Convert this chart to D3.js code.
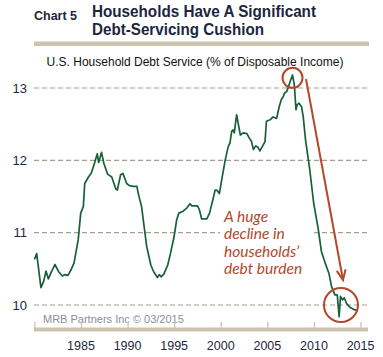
<!DOCTYPE html>
<html><head><meta charset="utf-8">
<script src="https://cdn.jsdelivr.net/npm/d3@7"></script>
<style>body{margin:0;background:#fff}svg{display:block}</style>
</head><body>
<script>
const years = [1980.0,1980.25,1980.7,1981.0,1981.25,1981.5,1981.8,1982.2,1982.6,1983.0,1983.3,1983.6,1983.9,1984.25,1984.7,1984.97,1985.25,1985.4,1985.8,1986.1,1986.4,1986.75,1986.9,1987.2,1987.45,1987.85,1988.3,1988.75,1988.9,1989.25,1989.5,1989.9,1990.2,1990.6,1991.0,1991.15,1991.5,1991.87,1992.05,1992.5,1992.8,1993.2,1993.4,1993.6,1993.9,1994.3,1994.6,1994.98,1995.27,1995.5,1996.0,1996.35,1996.7,1996.9,1997.5,1997.7,1997.95,1998.5,1998.8,1999.4,1999.56,1999.85,2000.1,2000.47,2000.8,2000.99,2001.17,2001.3,2001.45,2001.7,2001.9,2002.1,2002.4,2002.8,2003.05,2003.3,2003.5,2003.75,2004.0,2004.2,2004.5,2004.75,2004.9,2005.3,2005.6,2005.99,2006.27,2006.5,2006.7,2006.85,2007.07,2007.25,2007.5,2007.7,2007.9,2008.07,2008.2,2008.4,2008.67,2008.85,2009.1,2009.35,2009.55,2009.97,2010.45,2010.8,2011.15,2011.6,2011.9,2012.25,2012.5,2012.7,2012.85,2013.07,2013.25,2013.5,2013.85,2014.25,2014.7];
const debtService = [10.63,10.71,10.24,10.33,10.47,10.36,10.45,10.56,10.46,10.40,10.42,10.41,10.48,10.58,10.90,11.27,11.36,11.68,11.77,11.82,11.94,12.09,11.97,12.11,11.96,11.81,11.77,11.60,11.59,11.80,11.82,11.68,11.65,11.64,11.64,11.54,11.36,10.99,10.81,10.55,10.46,10.38,10.42,10.39,10.43,10.55,10.71,10.94,11.18,11.27,11.30,11.34,11.40,11.37,11.37,11.32,11.19,11.19,11.27,11.59,11.59,11.54,11.73,12.00,12.19,12.24,12.40,12.42,12.38,12.63,12.49,12.35,12.38,12.37,12.31,12.26,12.15,12.20,12.18,12.13,12.20,12.26,12.54,12.56,12.60,12.58,12.74,12.84,12.88,12.93,12.95,13.01,13.11,13.18,13.04,12.70,12.77,12.79,12.74,12.60,12.28,12.05,11.87,11.41,11.06,10.74,10.60,10.44,10.25,10.14,10.14,9.84,10.12,10.07,10.10,10.02,9.97,9.94,9.92];
const yTicks = [10, 11, 12, 13];
const xTicks = [1980, 1985, 1990, 1995, 2000, 2005, 2010, 2015];
const xTickLabels = ["", "1985", "1990", "1995", "2000", "2005", "2010", "2015"];
const titleLines = ["Households Have A Significant", "Debt-Servicing Cushion"];
const chartLabel = "Chart 5";
const subtitle = "U.S. Household Debt Service (% of Disposable Income)";
const annotationLines = ["A huge", "decline in", "households\u2019", "debt burden"];
const source = "MRB Partners Inc \u00a9 03/2015";
const peakPoint = [2007.7, 13.14];
const troughPoint = [2012.9, 10.0];

const W = 383, H = 357;
const navy = "#1d2640", rust = "#b5472b", tan = "#cbc3ae", grid = "#a39d8a", green = "#17603a";
const svg = d3.select("body").append("svg").attr("width", W).attr("height", H);

const x = d3.scaleLinear().domain([1980, 2015.8]).range([34.4, 368]);
const y = d3.scaleLinear().domain([10, 13]).range([305, 88]);

// Title
const tf = "Liberation Sans, Arial, sans-serif";
svg.append("text").attr("x", 34).attr("y", 20).attr("fill", navy)
  .attr("font-family", tf).attr("font-weight", 700).attr("font-size", 12.5)
  .attr("textLength", 43).attr("lengthAdjust", "spacingAndGlyphs").text(chartLabel);
svg.append("text").attr("x", 92).attr("y", 16.5).attr("fill", navy)
  .attr("font-family", tf).attr("font-weight", 700).attr("font-size", 16)
  .attr("textLength", 224).attr("lengthAdjust", "spacingAndGlyphs").text(titleLines[0]);
svg.append("text").attr("x", 92).attr("y", 35).attr("fill", navy)
  .attr("font-family", tf).attr("font-weight", 700).attr("font-size", 16)
  .attr("textLength", 172).attr("lengthAdjust", "spacingAndGlyphs").text(titleLines[1]);
svg.append("rect").attr("x", 34).attr("y", 41.5).attr("width", 335).attr("height", 4.5).attr("fill", tan);

svg.append("text").attr("x", 195).attr("y", 66).attr("text-anchor", "middle")
  .attr("font-family", "Liberation Sans, Arial, sans-serif").attr("font-size", 12).attr("fill", "#111")
  .text(subtitle);

// Gridlines
svg.append("g").selectAll("line").data(yTicks).join("line")
  .attr("x1", 34).attr("x2", 368).attr("y1", d => y(d)).attr("y2", d => y(d))
  .attr("stroke", grid).attr("stroke-width", 1.1).attr("stroke-dasharray", "5,3");
svg.append("g").selectAll("text").data(yTicks).join("text")
  .attr("x", 27).attr("y", d => y(d) + 4.5).attr("text-anchor", "end")
  .attr("font-family", "Liberation Sans, Arial, sans-serif").attr("font-size", 13).attr("fill", navy)
  .text(d => d);

// Annotation text with white backing
const ann = svg.append("g");
ann.append("rect").attr("x", 220).attr("y", 205).attr("width", 92).attr("height", 74).attr("fill", "#fff");
ann.selectAll("text").data(annotationLines).join("text")
  .attr("x", 224).attr("y", (d, i) => 221.5 + i * 17.5)
  .attr("font-family", "Lato, sans-serif").attr("font-style", "italic").attr("font-size", 15.5)
  .attr("fill", rust).text(d => d);

// Source
svg.append("text").attr("x", 43).attr("y", 323).attr("font-family", "Liberation Sans, Arial, sans-serif")
  .attr("font-size", 11).attr("fill", "#8a8f98").text(source);

// X axis
const xAxis = d3.axisTop(x).tickValues(xTicks).tickSize(6).tickFormat("");
const gx = svg.append("g").attr("transform", "translate(0,328)").call(xAxis);
gx.select(".domain").remove();
gx.selectAll(".tick line").attr("stroke", tan).attr("stroke-width", 1.3);
svg.append("rect").attr("x", 34).attr("y", 327.5).attr("width", 334).attr("height", 4).attr("fill", tan);
svg.append("g").selectAll("text").data(xTicks).join("text")
  .attr("x", d => x(d)).attr("y", 350).attr("text-anchor", "middle")
  .attr("font-family", "Liberation Sans, Arial, sans-serif").attr("font-size", 12.5).attr("fill", navy)
  .text((d, i) => xTickLabels[i]);

// Line
const line = d3.line().x((d, i) => x(years[i])).y(d => y(d));
svg.append("path").datum(debtService).attr("d", line).attr("fill", "none")
  .attr("stroke", green).attr("stroke-width", 1.7).attr("stroke-linejoin", "round");

// Circles
svg.append("circle").attr("cx", x(peakPoint[0])).attr("cy", y(peakPoint[1])).attr("r", 10)
  .attr("fill", "none").attr("stroke", rust).attr("stroke-width", 2);
svg.append("circle").attr("cx", x(troughPoint[0])).attr("cy", y(troughPoint[1])).attr("r", 17)
  .attr("fill", "none").attr("stroke", rust).attr("stroke-width", 2);

// Arrow
const ax1 = 306, ay1 = 79, ax2 = 343, ay2 = 280;
svg.append("line").attr("x1", ax1).attr("y1", ay1).attr("x2", ax2).attr("y2", ay2)
  .attr("stroke", rust).attr("stroke-width", 2);
const ang = Math.atan2(ay2 - ay1, ax2 - ax1);
const hl = 11, hw = 0.42;
svg.append("path")
  .attr("d", `M${ax2 - hl*Math.cos(ang - hw)},${ay2 - hl*Math.sin(ang - hw)}L${ax2},${ay2}L${ax2 - hl*Math.cos(ang + hw)},${ay2 - hl*Math.sin(ang + hw)}`)
  .attr("fill", "none").attr("stroke", rust).attr("stroke-width", 2);
</script>
</body></html>
